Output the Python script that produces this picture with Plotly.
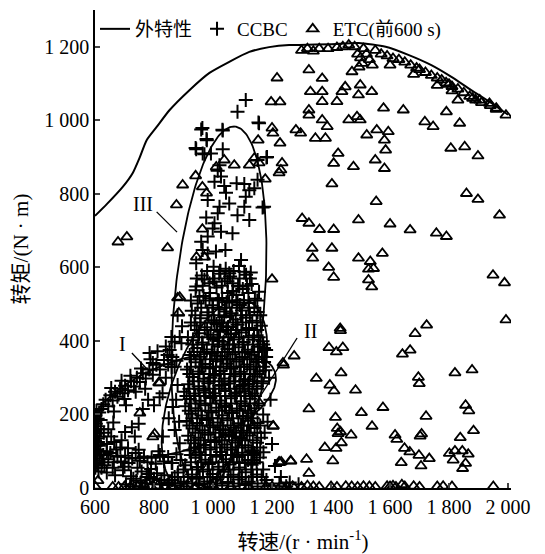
import numpy as np
import plotly.graph_objects as go

# ---------------- data ----------------
# external characteristic curve
ext_speed = [600, 640, 694, 728, 752, 775, 809, 853, 920, 988, 1055, 1123, 1190, 1258, 1291,
             1400, 1494, 1585, 1662, 1740, 1808, 1875, 1943, 2000]
ext_torque = [740, 772, 819, 857, 900, 946, 982, 1028, 1082, 1129, 1159, 1186, 1199, 1205, 1205,
              1207, 1210, 1200, 1178, 1150, 1118, 1082, 1047, 1015]

# CCBC operating points (speed, torque)
ccbc_left = [(601,55),(603,75),(600,95),(602,115),(604,135),(600,155),(603,175),(601,195),(605,210),
             (607,65),(609,88),(606,105),(610,125),(608,148),(611,168),(609,188),(614,205),(616,80),
             (618,100),(615,140),(620,160),(619,185),(624,70),(628,90),(612,45),(622,55),(600,130),
             (601,180),(605,160),(613,115)]
ccbc_low = [(632,62),(645,78),(652,95),(664,70),(676,85),(688,72),(702,88),(714,68),(726,80),(738,95),
            (752,74),(766,86),(778,70),(792,82),(806,66),(820,90),(834,72),(848,84),(862,68),(876,92),
            (890,76),(640,100),(672,105),(712,108),(748,104),(640,42),(668,35),(695,48),(722,32),(758,45),
            (786,30),(660,55),(700,58),(744,55),(790,52),(640,120),(655,140),(630,150),(740,20),(770,12),
            (800,25),(820,10),(835,35),(850,15),(810,40),(780,38),(705,10),(730,25),(755,15),(775,30),
            (795,10),(825,22),(845,8),(870,30),(890,12),(720,5),(760,5)]
ccbc_up = [(622,215),(628,228),(636,240),(645,222),(652,252),(660,238),(668,262),(676,248),(685,270),
           (694,258),(702,278),(712,266),(722,290),(732,276),(742,300),(752,288),(762,312),(772,298),
           (784,322),(796,308),(808,335),(820,322),(834,348),(848,336),(862,356),(876,346),(655,272),
           (690,292),(720,305),(756,325),(788,350),(812,372),(840,385),(870,398),(700,242),(738,262),
           (664,208),(770,270)]
ccbc_in1 = [(645,160),(662,178),(690,130),(702,152),(725,165),(748,175),(762,215),(780,240),(705,225),
            (686,110),(665,125),(800,225),(735,140)]
ccbc_mid = [(785,367),(796,340),(846,362),(853,375),(859,411),(887,411),(893,394),(860,329),(829,258),
            (819,247),(863,220),(870,158),(887,122),(860,68),(840,300),(880,280),(850,190),(875,240),
            (830,140),(815,100),(885,180),(870,330),(895,440),(880,470)]
ccbc_blob = [(1002,602),(1043,596),(1088,604),(962,578),(1021,583),(1058,575),(1112,580),(988,557),
             (1049,562),(1131,555),(941,538),(1012,545),(1068,536),(1101,541),(968,522),(1031,517),
             (1079,525),(1142,515),(948,502),(998,497),(1046,505),(1091,498),(1122,503),
             (928,482),(981,478),(1019,486),(1063,475),(1098,483),(1151,479),(957,462),(1003,456),
             (1038,465),(1077,458),(1112,463),(1133,455),(938,442),(972,437),(1012,446),(1051,438),
             (1083,444),(1122,435),(1162,441),(953,421),(992,417),(1024,425),(1061,418),(1096,423),
             (1139,415),(932,402),(963,396),(1001,405),(1036,398),(1071,404),(1104,397),(1136,403),
             (1168,399),(947,381),(979,377),(1016,385),(1049,378),(1087,383),(1118,376),(1152,384),
             (921,362),(958,357),(996,365),(1031,358),(1066,364),(1099,356),(1131,363),(1166,357),
             (941,342),(974,337),(1011,345),(1046,338),(1079,344),(1116,336),(1146,343),(912,322),
             (954,317),(989,325),(1026,318),(1061,324),(1094,316),(1127,323),(1158,317),(931,302),
             (969,297),(1006,305),(1039,298),(1076,304),(1109,296),(1141,303),(916,282),(951,277),
             (984,285),(1021,278),(1054,284),(1091,276),(1119,283),(1149,277),(902,262),(936,257),
             (969,265),(1006,258),(1041,264),(1074,256),(1106,263),(1134,257),(921,242),(954,237),
             (991,245),(1024,238),(1061,244),(1094,236),(1126,243),(906,222),(941,217),(974,225),
             (1011,218),(1044,224),(1081,216),(1109,223),(1141,217),(926,202),(961,197),(994,205),
             (1031,198),(1064,204),(1101,196),(1129,203),(911,182),(946,177),(979,185),(1016,178),
             (1049,184),(1086,176),(1119,183),(1151,177),(931,162),(964,157),(1001,165),(1034,158),
             (1071,164),(1104,156),(1141,163),(916,142),(951,137),(984,145),(1021,138),(1054,144),
             (1091,136),(1124,143),(1163,137),(936,122),(969,117),(1006,125),(1039,118),(1076,124),
             (1109,116),(1149,123),(921,102),(954,97),(991,105),(1024,98),(1061,104),(1099,96),
             (1134,103),(1171,97),(941,82),(974,77),(1011,85),(1044,78),(1081,84),(1119,76),(1159,83),
             (906,62),(949,57),(986,65),(1019,58),(1056,64),(1089,56),(1131,63),(881,42),(929,37),
             (966,45),(999,38),(1036,44),(1069,36),(1111,43),(1149,37),(861,22),(901,17),(944,25),
             (981,18),(1014,24),(1051,16),(1086,23),(1121,17),(1181,22),(871,6),(911,4),(951,8),
             (989,3),(1031,7),(1069,5),(1111,8),(1151,4),(1201,6),(1248,5),
             (990,300),(1010,330),(1030,280),(1050,350),(1070,310),(1020,400),(1060,420),(1000,250),
             (1040,220),(1080,260),(985,190),(1025,160),(1065,140),(1005,450),(1045,480),(1090,330),
             (1100,280),(960,330),(975,260),(1015,360),(1055,390),(1035,440)]
# second, interleaved pass over the dense core: (torque level, speeds)
ccbc_core_rows = [
    (590, [980, 1025, 1070]),
    (570, [945, 1000, 1040, 1090, 1125]),
    (550, [965, 1030, 1085, 1115]),
    (530, [990, 1050, 1120]),
    (510, [925, 975, 1020, 1065, 1105, 1150]),
    (490, [960, 1000, 1040, 1080, 1120, 1140]),
    (470, [940, 985, 1022, 1058, 1095, 1125, 1160]),
    (450, [925, 958, 995, 1030, 1068, 1100, 1148]),
    (430, [945, 980, 1015, 1045, 1078, 1112, 1150]),
    (410, [915, 950, 985, 1020, 1052, 1088, 1120, 1155]),
    (390, [930, 965, 998, 1032, 1068, 1100, 1135, 1170]),
    (370, [935, 970, 1005, 1040, 1075, 1108, 1140]),
    (350, [925, 955, 990, 1025, 1058, 1090, 1125, 1155]),
    (330, [925, 965, 1000, 1035, 1070, 1105, 1138, 1170]),
    (310, [920, 950, 988, 1022, 1058, 1092, 1125, 1150]),
    (290, [935, 968, 1002, 1038, 1072, 1105, 1135, 1165]),
    (270, [920, 952, 988, 1022, 1058, 1090, 1122, 1150]),
    (250, [910, 940, 972, 1008, 1042, 1078, 1110, 1142]),
    (230, [925, 958, 992, 1028, 1062, 1095, 1125, 1155]),
    (210, [918, 950, 985, 1020, 1055, 1090, 1120]),
    (190, [930, 962, 998, 1032, 1068, 1102, 1135]),
    (170, [920, 955, 990, 1025, 1060, 1095, 1128, 1160]),
    (150, [940, 972, 1008, 1042, 1078, 1115, 1150]),
    (130, [925, 958, 992, 1030, 1065, 1098, 1135]),
    (110, [940, 975, 1012, 1048, 1085, 1120, 1160]),
    (90, [925, 958, 992, 1030, 1065, 1100, 1140]),
    (70, [925, 960, 998, 1035, 1070, 1108, 1148]),
    (50, [900, 945, 982, 1018, 1052, 1090, 1130, 1170]),
    (30, [880, 915, 955, 990, 1025, 1060, 1098, 1135, 1165]),
    (12, [850, 890, 930, 970, 1010, 1050, 1090, 1130, 1175, 1225]),
]
ccbc_high = [(1111,1055),(1083,1023),(1154,994),(960,975),(1033,972),(979,946),(943,921),(1033,921),
             (965,910),(993,910),(1181,899),(1022,878),(1151,892),(1016,863),(1027,847),(1005,833),
             (1038,821),(1080,829),(1106,827),(1140,815),(1151,838),(1044,803),(1111,792),(1123,810),
             (982,783),(1022,765),(1055,774),(1083,742),(1106,765),(1173,765),(1016,747),(977,736),
             (1123,729),(1005,720),(999,706),(1027,697),(1066,693),(982,684),(960,670),(965,647),
             (982,638),(1010,643),(1042,647),(943,611),(1095,620),(1106,588),(1128,586),(1024,591),
             (1055,584),(971,567),(1005,561),(1066,557),(1089,548),(943,548),(1156,534),(954,520),
             (988,516),(1016,511),(1055,507),(1083,504),(1168,763)]
ccbc_out = [(964,979),(978,949),(941,925),(971,908),(1032,974),(1156,992),(1183,900),(1180,375),
            (1173,381),(1180,356),(1173,343),(1130,98),(1133,76),(1140,95),(1133,68),(1089,68),
            (1190,300),(1195,240),(1185,180),(1200,120),(1210,60),(1230,30),(1260,15),(1290,10),
            (1170,200),(1175,150),(1165,285),(1178,320)]
ccbc_core = [(x, y) for y, xs in ccbc_core_rows for x in xs]
ccbc_pts = (ccbc_left + ccbc_low + ccbc_up + ccbc_in1 + ccbc_mid + ccbc_blob + ccbc_core
            + ccbc_high + ccbc_out)
ccbc_speed = [p[0] for p in ccbc_pts]
ccbc_torque = [p[1] for p in ccbc_pts]

# ETC points (first 600 s)
etc_curve = [(1300,1190),(1320,1195),(1340,1188),(1360,1195),(1390,1195),(1420,1198),(1440,1200),
             (1460,1205),(1480,1200),(1490,1180),(1500,1170),(1510,1195),(1520,1180),(1530,1165),
             (1550,1190),(1570,1180),(1590,1175),(1610,1168),(1630,1165),(1650,1158),(1670,1150),
             (1690,1142),(1700,1138),(1720,1130),(1740,1122),(1760,1115),(1775,1110),(1790,1102),
             (1800,1098),(1810,1092),(1830,1085),(1850,1075),(1870,1065),(1880,1060),(1890,1055),
             (1910,1048),(1940,1040),(1960,1030),(1505,1155),(1495,1145),(1540,1150),(1600,1150),
             (1680,1125),(1760,1095),(1810,1080)]
etc_scatter = [(1325,1137),(1370,1114),(1471,1132),(1330,1078),(1370,1078),(1370,1051),(1420,1051),
               (1448,1091),(1499,1096),(1493,1069),(1538,1078),(1437,1078),(1325,1028),(1325,1014),
               (1370,1001),(1387,983),(1460,1001),(1488,1010),(1499,1001),(1578,1033),(1645,1028),
               (1297,965),(1347,951),(1381,951),(1521,960),(1555,974),(1594,969),(1581,946),(1718,996),
               (1746,983),(1791,1023),(1836,992),(1830,1055),(1904,1055),(1937,1046),(1960,1033),
               (1993,1014),(1585,919),(1424,910),(1409,883),(1550,892),(1476,874),(1581,869),(1403,827),
               (1806,924),(1853,928),(1898,903),(1553,779),(1859,801),(1898,785),(1971,742),(1302,733),
               (1325,720),(1361,703),(1409,703),(1493,729),(1600,718),(1668,702),(1757,693),(1791,684),
               (1336,652),(1403,652),(1338,625),(1493,625),(1533,616),(1574,638),(1392,600),(1409,573),
               (1527,595),(1544,597),(1527,566),(1538,547),(1949,579),(1988,558),(1993,457),(1724,443),
               (1431,434),(1685,420),(1668,375),(1642,364),(1432,428),(1393,382),(1440,382),(1418,370),
               (1275,359),(1239,334),(1350,298),(1434,313),(1396,280),(1410,264),(1483,266),(1696,301),
               (1699,284),(1820,313),(1878,321),(1325,215),(1415,192),(1503,205),(1576,219),(1204,168),
               (1539,168),(1722,195),(1856,225),(1867,210),(1421,162),(1432,153),(1424,148),(1468,144),
               (1617,144),(1623,132),(1702,141),(1707,147),(1883,156),(1838,137),(1435,123),(1379,110),
               (1417,108),(1649,108),(1667,98),(1698,89),(1733,80),(1801,94),(1820,101),(1845,101),
               (1865,92),(1814,76),(1856,67),(1846,53),(1226,69),(1263,74),(1317,78),(1406,74),(1638,69),
               (1705,60),(1325,40)]
etc_left = [(897,824),(876,770),(941,849),(1217,1115),(1197,1050),(1227,1050),(1200,979),(1203,965),
            (1227,938),(1153,946),(1072,878),(1123,878),(1140,897),(1156,884),(1177,840),(1234,884),
            (1230,865),(1224,857),(964,819),(978,802),(1038,892),(1011,873),(1281,974),(846,653),
            (964,704),(944,628),(971,628),(1200,568),(880,517),(887,519),(884,476),(819,286),
            (1237,340),(1204,169),(802,147),(1231,71),(947,98),(1157,231),(816,286),(752,204),
            (796,139),(944,95),(1224,71),(1264,73),(678,669),(708,683)]
etc_base = [(600,5),(610,20),(660,3),(680,3),(700,4),(720,3),(745,5),(765,8),(790,4),(812,6),(840,3),
            (862,5),(905,4),(940,3),(1000,5),(1060,4),(1120,3),(1180,4),(1200,3),(1230,6),(1250,3),
            (1270,5),(1300,3),(1320,6),(1340,4),(1360,3),(1400,4),(1420,3),(1450,5),(1470,4),(1490,3),
            (1510,5),(1530,4),(1550,3),(1590,5),(1600,4),(1610,6),(1620,3),(1640,9),(1650,4),(1680,5),
            (1700,3),(1760,4),(1780,5),(1810,4),(1950,4)]
etc_pts = etc_curve + etc_scatter + etc_left + etc_base
etc_speed = [p[0] for p in etc_pts]
etc_torque = [p[1] for p in etc_pts]

x_ticks = [600, 800, 1000, 1200, 1400, 1600, 1800, 2000]
x_ticktext = ["600", "800", "1 000", "1 200", "1 400", "1 600", "1 800", "2 000"]
y_ticks = [0, 200, 400, 600, 800, 1000, 1200]
y_ticktext = ["0", "200", "400", "600", "800", "1 000", "1 200"]

# ellipse annotations: centre (data), semi-axes (px), tilt (deg, screen)
ellipses = [dict(cx=897, cy=226, a=98, b=44, ang=20),
            dict(cx=1005, cy=253, a=100, b=44, ang=71),
            dict(cx=1020, cy=490, a=182, b=45, ang=85)]
region_labels = [("I", 694, 392), ("II", 1332, 428), ("III", 762, 772)]
leaders = [((725, 367), (792, 310)), ((1285, 408), (1163, 253)), ((809, 751), (878, 696))]

# ---------------- layout constants ----------------
# the page body adds an 8 px offset, so the figure is 8 px smaller than the window
OFF = 8
W, H = 545 - OFF, 554 - OFF
ML, MR, MT = 95 - OFF, 34, 10 - OFF
PLOT_H = 478
MB = H - MT - PLOT_H
XR = [600, 2010]
YR = [0, 1300]
kx = (W - ML - MR) / (XR[1] - XR[0])
ky = (H - MT - MB) / (YR[1] - YR[0])

SERIF = "Liberation Serif, Times New Roman, Noto Sans CJK SC, serif"

fig = go.Figure()

fig.add_trace(go.Scatter(x=ext_speed, y=ext_torque, mode="lines", name="外特性",
                         line=dict(color="black", width=2, shape="spline", smoothing=0.6)))
fig.add_trace(go.Scatter(x=ccbc_speed, y=ccbc_torque, mode="markers", name="CCBC",
                         marker=dict(symbol="cross-thin-open", size=10, color="black",
                                     line=dict(color="black", width=2))))
fig.add_trace(go.Scatter(x=etc_speed, y=etc_torque, mode="markers", name="ETC(前600 s)",
                         marker=dict(symbol="triangle-up-open", size=10, color="black",
                                     line=dict(color="black", width=1.8))))

t = np.linspace(0, 2 * np.pi, 240)
for e in ellipses:
    th = np.deg2rad(e["ang"])
    u = e["a"] * np.cos(t)
    v = e["b"] * np.sin(t)
    dx = u * np.cos(th) - v * np.sin(th)
    dy = u * np.sin(th) + v * np.cos(th)
    fig.add_trace(go.Scatter(x=e["cx"] + dx / kx, y=e["cy"] + dy / ky, mode="lines",
                             line=dict(color="black", width=1.8), showlegend=False,
                             hoverinfo="skip"))

for (p0, p1) in leaders:
    fig.add_trace(go.Scatter(x=[p0[0], p1[0]], y=[p0[1], p1[1]], mode="lines",
                             line=dict(color="black", width=1.3), showlegend=False,
                             hoverinfo="skip"))

for txt, lx, ly in region_labels:
    fig.add_annotation(x=lx, y=ly, text=txt, showarrow=False,
                       font=dict(family=SERIF, size=20, color="black"))

fig.update_layout(
    width=W, height=H,
    margin=dict(l=ML, r=MR, t=MT, b=MB),
    paper_bgcolor="white", plot_bgcolor="white",
    font=dict(family=SERIF, size=19, color="black"),
    legend=dict(orientation="h", x=0.0, y=1.0, xanchor="left", yanchor="top",
                bgcolor="rgba(0,0,0,0)", font=dict(family=SERIF, size=19),
                itemwidth=30, tracegroupgap=0),
    xaxis=dict(range=XR, tickvals=x_ticks, ticktext=x_ticktext, ticks="inside", ticklen=5,
               tickwidth=1.5, showline=True, linecolor="black", linewidth=1.5, showgrid=False,
               zeroline=False, automargin=False,
               tickfont=dict(family=SERIF, size=20),
               title=dict(text="转速/(r · min<sup>-1</sup>)", standoff=19,
                          font=dict(family=SERIF, size=21))),
    yaxis=dict(range=YR, tickvals=y_ticks, ticktext=y_ticktext, ticks="inside", ticklen=5,
               tickwidth=1.5, showline=True, linecolor="black", linewidth=1.5, showgrid=False,
               zeroline=False, automargin=False,
               tickfont=dict(family=SERIF, size=20),
               title=dict(text="转矩/(N · m)", standoff=10,
                          font=dict(family=SERIF, size=21))),
    showlegend=True,
)

fig.write_html("out.html")
